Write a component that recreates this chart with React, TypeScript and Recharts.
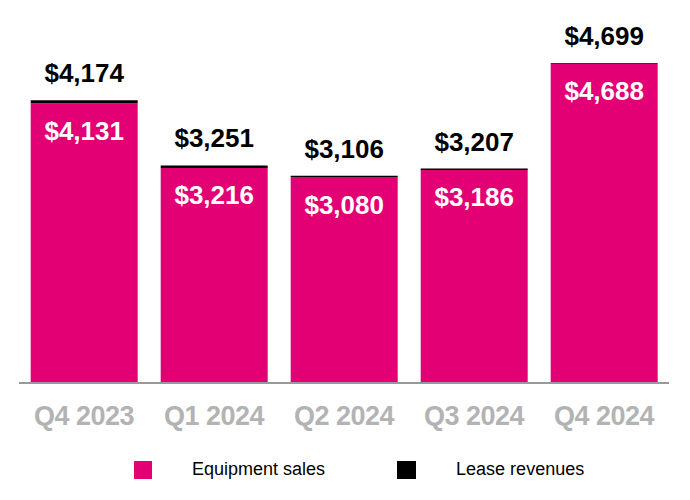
import { BarChart, Bar, XAxis, YAxis, LabelList } from 'recharts'

const quarters = ['Q4 2023', 'Q1 2024', 'Q2 2024', 'Q3 2024', 'Q4 2024']
const equipmentSales = [4131, 3216, 3080, 3186, 4688]
const leaseRevenues = [43, 35, 26, 21, 11]
const totals = [4174, 3251, 3106, 3207, 4699]

const MAGENTA = '#e20074'
const FONT = "'Liberation Sans', Arial, sans-serif"

const data = quarters.map((q, i) => ({
  quarter: q,
  equipment: equipmentSales[i],
  lease: leaseRevenues[i],
  total: totals[i],
}))

const money = (v: any) => '$' + Number(v).toLocaleString('en-US')

export default function App() {
  return (
    <div style={{ position: 'fixed', left: 0, top: 0, width: 690, height: 500, background: '#fff', fontFamily: FONT }}>
      <BarChart width={690} height={500} data={data} barCategoryGap="9%"
        margin={{ top: 63, right: 21, left: 19, bottom: 65 }}>
        <XAxis dataKey="quarter" height={52} tickLine={false}
          axisLine={{ stroke: '#999999', strokeWidth: 2 }}
          tick={{ fill: '#b3b3b3', fontSize: 27, fontWeight: 700, fontFamily: FONT, letterSpacing: -0.5 }} tickMargin={17} />
        <YAxis hide domain={[175, 4699]} allowDataOverflow />
        <Bar dataKey="equipment" stackId="a" fill={MAGENTA} isAnimationActive={false}>
          <LabelList dataKey="equipment" position="insideTop" offset={18} formatter={money}
            style={{ fill: '#ffffff', fontSize: 26, fontWeight: 700, fontFamily: FONT }} />
        </Bar>
        <Bar dataKey="lease" stackId="a" fill="#000000" isAnimationActive={false}>
          <LabelList dataKey="total" position="top" offset={18} formatter={money}
            style={{ fill: '#000000', fontSize: 26, fontWeight: 700, fontFamily: FONT }} />
        </Bar>
      </BarChart>
      <div style={{ position: 'absolute', top: 459, left: 134, display: 'flex', alignItems: 'center', fontSize: 18, color: '#000' }}>
        <span style={{ width: 18, height: 18, background: MAGENTA, display: 'inline-block' }} />
        <span style={{ marginLeft: 40 }}>Equipment sales</span>
        <span style={{ width: 19, height: 18, background: '#000', display: 'inline-block', marginLeft: 72 }} />
        <span style={{ marginLeft: 40 }}>Lease revenues</span>
      </div>
    </div>
  )
}
